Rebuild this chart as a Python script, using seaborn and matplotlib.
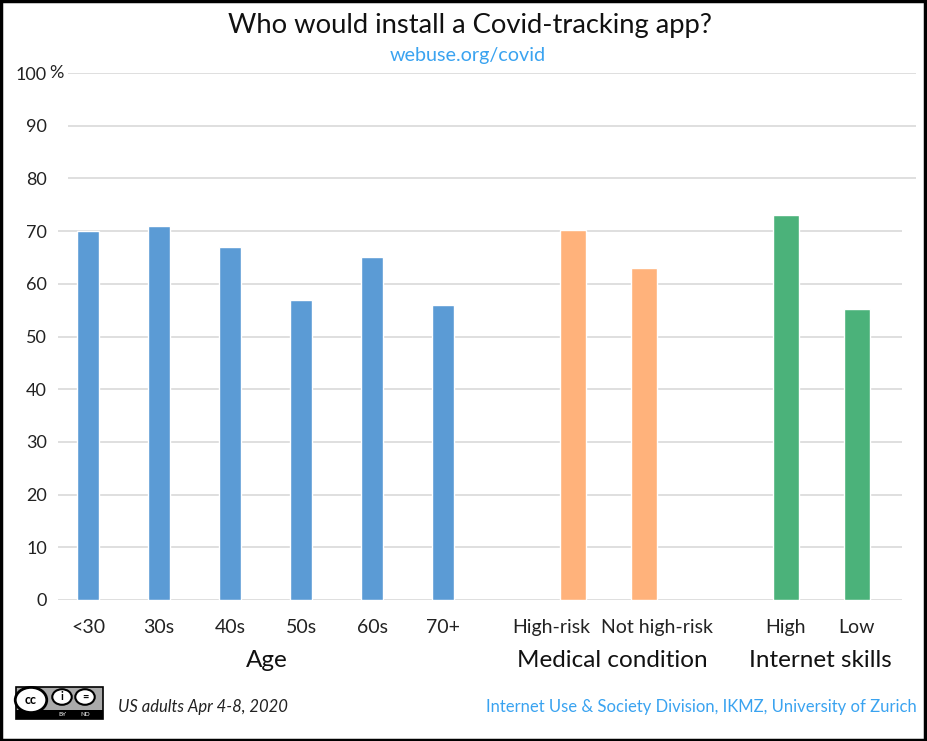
import numpy as np
import pandas as pd
import matplotlib
matplotlib.use('Agg')
import matplotlib.pyplot as plt
import seaborn as sns
from matplotlib.patches import Rectangle, Circle

# chart data
labels = ['<30', '30s', '40s', '50s', '60s', '70+', 'High-risk', 'Not high-risk', 'High', 'Low']
values = [70, 71, 67, 57, 65, 56, 70.2, 63, 73, 55.2]
groups = ['Age'] * 6 + ['Medical condition'] * 2 + ['Internet skills'] * 2
slots = [0, 1, 2, 3, 4, 5, 6.83, 7.83, 9.83, 10.83]
label_slots = [0, 1, 2, 3, 4, 5, 6.52, 8.02, 9.83, 10.83]
group_names = ['Age', 'Medical condition', 'Internet skills']
group_slots = [2.52, 7.39, 10.32]
y_ticks = [0, 10, 20, 30, 40, 50, 60, 70, 80, 90, 100]
y_ticklabels = ['0', '10', '20', '30', '40', '50', '60', '70', '80', '90', '100']

palette = {'Age': '#5B9BD5', 'Medical condition': '#FFB27B', 'Internet skills': '#4BB27A'}
bar_width = {'Age': 0.31, 'Medical condition': 0.36, 'Internet skills': 0.36}

df = pd.DataFrame({'label': labels, 'value': values, 'group': groups, 'slot': slots})

sns.set_style('white')
plt.rcParams['font.family'] = ['Lato', 'DejaVu Sans']

px = lambda p: (p - 88) / 71  # pixel column -> slot units

fig = plt.figure(figsize=(9.27, 7.41), dpi=100)
ax = fig.add_axes([58 / 927, 1 - 600 / 741, (916 - 58) / 927, (600 - 73) / 741])

# gridlines (lower part of the chart is a bit shorter than the top)
for t in y_ticks:
    if t <= 70:
        ax.hlines(t, px(58), px(902), color='#D9D9D9', lw=1.2, zorder=0)
    else:
        ax.hlines(t, px(68), px(916), color='#D9D9D9', lw=1.2, zorder=0)

for g in group_names:
    sub = df[df['group'] == g]
    sns.barplot(data=sub, x='slot', y='value', color=palette[g],
                native_scale=True, width=bar_width[g], ax=ax,
                saturation=1, zorder=3, errorbar=None)

ax.set_xlim(px(58), px(916))
ax.set_ylim(0, 100)
ax.set_yticks(y_ticks)
ax.set_yticklabels(y_ticklabels, fontsize=13)
ax.set_xticks(label_slots)
ax.set_xticklabels(labels, fontsize=14)
ax.tick_params(axis='both', length=0, colors='#222222')
ax.tick_params(axis='x', pad=14)
ax.tick_params(axis='y', pad=8)
ax.grid(False)
ax.set_xlabel('')
ax.set_ylabel('')
for s in ax.spines.values():
    s.set_visible(False)

ax.text(px(49), 100, '%', ha='left', va='center', fontsize=13, color='#222222')

# group labels under the categories
for g, gx in zip(group_names, group_slots):
    ax.text(gx, -11.4, g, ha='center', va='center', fontsize=17.5, color='#111111')

fig.text(470 / 927, 1 - 26 / 741, 'Who would install a Covid-tracking app?',
         ha='center', va='center', fontsize=19.7, color='#111111')
fig.text(468 / 927, 1 - 56 / 741, 'webuse.org/covid', ha='center', va='center',
         fontsize=14.2, color='#3AA3F0')
fig.text(118 / 927, 1 - 707 / 741, 'US adults Apr 4-8, 2020', ha='left', va='center',
         fontsize=12, style='italic', color='#222222')
fig.text(917 / 927, 1 - 707 / 741, 'Internet Use & Society Division, IKMZ, University of Zurich',
         ha='right', va='center', fontsize=12, color='#3AA3F0')

# licence badge
bx, by, bw, bh = 16 / 927, 1 - 719 / 741, 87 / 927, 32 / 741
fig.patches.append(Rectangle((bx, by), bw, bh, transform=fig.transFigure,
                             facecolor='#AAAAAA', edgecolor='black', lw=1.2))
fig.patches.append(Rectangle((bx, by), bw, 9 / 741, transform=fig.transFigure,
                             facecolor='black', edgecolor='black', lw=0))
fig.patches.append(Circle((31 / 927, 1 - 700 / 741), 0.017, transform=fig.transFigure,
                          facecolor='white', edgecolor='black', lw=2))
fig.text(31 / 927, 1 - 700 / 741, 'cc', ha='center', va='center', fontsize=9,
         fontweight='bold', color='black')
for cx, sym in [(62, 'i'), (85, '=')]:
    fig.patches.append(Circle((cx / 927, 1 - 697 / 741), 0.0105, transform=fig.transFigure,
                              facecolor='white', edgecolor='black', lw=1.5))
    fig.text(cx / 927, 1 - 697 / 741, sym, ha='center', va='center', fontsize=8,
             fontweight='bold', color='black')
fig.text(62 / 927, 1 - 714 / 741, 'BY', ha='center', va='center', fontsize=4.5, color='white')
fig.text(85 / 927, 1 - 714 / 741, 'ND', ha='center', va='center', fontsize=4.5, color='white')

# outer frame
fig.patches.append(Rectangle((0.001, 0.001), 0.997, 0.997, transform=fig.transFigure,
                             facecolor='none', edgecolor='black', lw=2.5))

fig.savefig('out.png', dpi=100)
